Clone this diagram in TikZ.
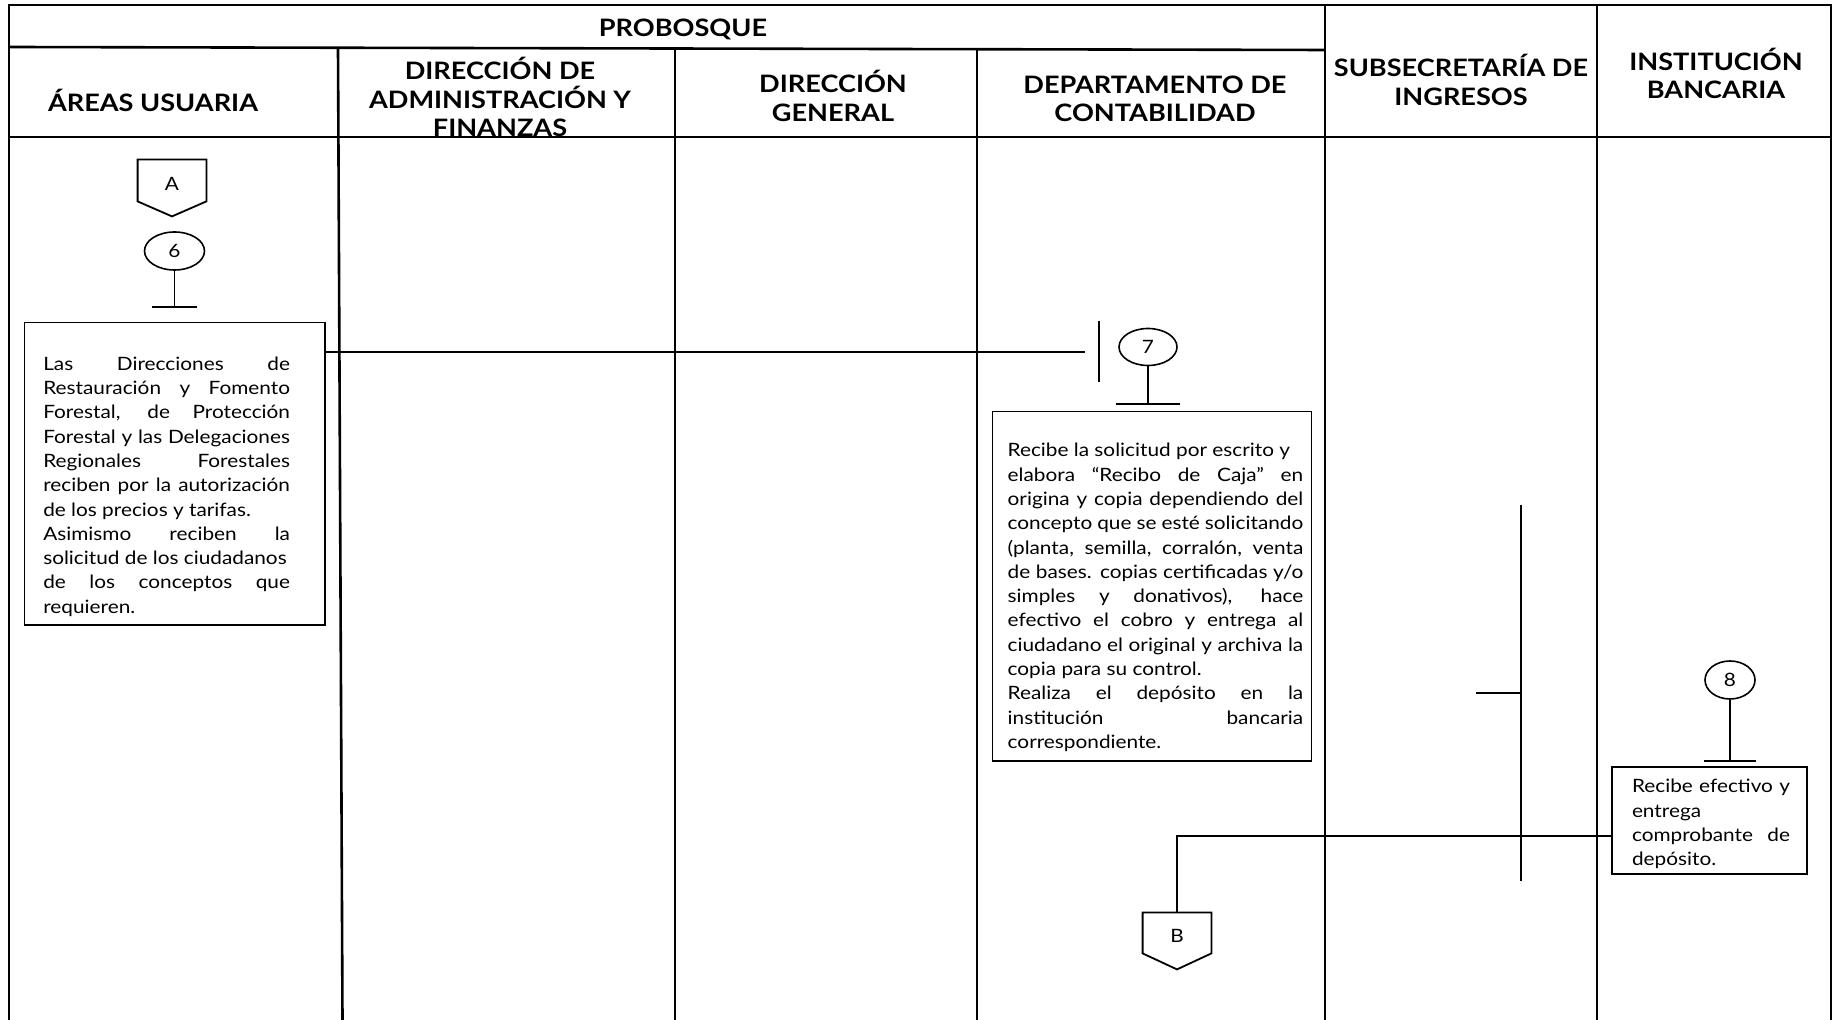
\documentclass[tikz,border=0pt]{standalone}
\usepackage{fontspec}
\setmainfont{Lato}
\newfontfamily\bodyfont[FakeStretch=1.13]{Lato}
\newfontfamily\headfont[FakeStretch=1.13]{Lato}
\usetikzlibrary{shapes.geometric}
\newcommand{\offpage}[2]{%
  \draw[boxline] (#1.north west) -- (#1.north east) -- (#1.south east)
    -- ([yshift=-#2]#1.south) -- (#1.south west) -- cycle;}

\begin{document}
\begin{tikzpicture}[x=0.5pt,y=-0.5pt,
  frame/.style={line width=1.3pt},
  link/.style={line width=0.8pt},
  boxline/.style={line width=0.9pt},
  head/.style={font=\headfont\bfseries\fontsize{12}{14.3}\selectfont,align=center,inner sep=0pt},
  procbox/.style={draw,boxline,inner sep=0pt,align=justify,
    font=\bodyfont\fontsize{9.2}{12.15}\selectfont},
  stepnum/.style={draw,link,ellipse,inner sep=0pt,font=\bodyfont\fontsize{9.2}{11}\selectfont},
  connector/.style={inner sep=0pt,minimum width=34pt,text height=10pt,text depth=0pt,
    font=\bodyfont\fontsize{9.2}{11}\selectfont}]
  \useasboundingbox (0,0) rectangle (1833,1020);
  % ---------------- header texts
  \begin{scope}
    \clip (9,5) rectangle (1831,136);
    \node[head] (probosque) at (683,29) {PROBOSQUE};
    \node[head] (areas) at (153,100) {ÁREAS USUARIA};
    \node[head] (admin) at (500,97) {DIRECCIÓN DE\\ADMINISTRACIÓN Y\\FINANZAS};
    \node[head] (general) at (833,96) {DIRECCIÓN\\GENERAL};
    \node[head] (conta) at (1155,99) {DEPARTAMENTO DE\\CONTABILIDAD};
    \node[head] (ingresos) at (1461,80) {SUBSECRETARÍA DE\\INGRESOS};
    \node[head] (banco) at (1716,73.5) {INSTITUCIÓN\\BANCARIA};
  \end{scope}
  % ---------------- frame and lanes
  \draw[frame] (9,1020) -- (9,5) -- (1831,5) -- (1831,1020);
  \draw[frame] (9,47) -- (1325,50);
  \draw[frame] (9,137) -- (1831,137);
  \draw[frame] (338,48) -- (342.5,1020);
  \draw[frame] (675,48) -- (675,1020);
  \draw[frame] (977,49) -- (977,1020);
  \draw[frame] (1325,5) -- (1325,1020);
  \draw[frame] (1597,5) -- (1597,1020);
  % ---------------- areas usuaria
  \node[connector,minimum height=20.5pt] (conA) at (172,180.5) {A};
  \offpage{conA}{7.5pt}
  \node[stepnum,minimum width=30pt,minimum height=19pt] (e6) at (174.5,251) {6};
  \draw[link] (e6.south) -- (e6.south |- 0,307) coordinate (t6);
  \draw[link] ([xshift=-11.25pt]t6) -- ([xshift=11.25pt]t6);
  \node[procbox,text width=150.25pt,minimum height=151.4pt] (box1) at (174.75,474)
    {\leftskip=9.4pt\rightskip=17.5pt
     \rule{0pt}{19.3pt}Las Direcciones de\linebreak
     Restauración y Fomento\linebreak
     Forestal, de Protección\linebreak
     Forestal y las Delegaciones\linebreak
     Regionales Forestales\linebreak
     reciben por la autorización\linebreak
     de los precios y tarifas.\par
     Asimismo reciben la\linebreak
     solicitud de los ciudadanos\newline
     de los conceptos que\linebreak
     requieren.\par};
  % ---------------- departamento de contabilidad
  \draw[link] (box1.east |- 0,352) -- (1085,352) coordinate (c7);
  \draw[link] (1099,321) -- (1099,382);
  \node[stepnum,minimum width=29pt,minimum height=18.5pt] (e7) at (1148,347) {7};
  \draw[link] (e7.south) -- (e7.south |- 0,404) coordinate (t7);
  \draw[link] ([xshift=-16pt]t7) -- ([xshift=16pt]t7);
  \node[procbox,text width=159.5pt,minimum height=174.75pt] (box2) at (1152,586.25)
    {\leftskip=7.6pt\rightskip=4.1pt
     \rule{0pt}{18pt}Recibe la solicitud por escrito y \newline
     elabora “Recibo de Caja” en\linebreak
     origina y copia dependiendo del\linebreak
     concepto que se esté solicitando\linebreak
     (planta, semilla, corralón, venta\linebreak
     de bases. copias certificadas y/o\linebreak
     simples y donativos), hace\linebreak
     efectivo el cobro y entrega al\linebreak
     ciudadano el original y archiva la\linebreak
     copia para su control.\par
     Realiza el depósito en la\linebreak
     institución bancaria\linebreak
     correspondiente.\par};
  \node[connector,minimum height=20pt] (conB) at (1177,933) {B};
  \offpage{conB}{8pt}
  % ---------------- subsecretaria de ingresos
  \draw[link] (1521,505) -- (1521,881);
  \draw[link] (1476,693) -- (1521,693);
  % ---------------- institucion bancaria
  \node[stepnum,minimum width=25pt,minimum height=19pt] (e8) at (1730,680) {8};
  \draw[link] (e8.south) -- (e8.south |- 0,761) coordinate (t8);
  \draw[link] ([xshift=-13pt]t8) -- ([xshift=13pt]t8);
  \node[procbox,text width=97.5pt,minimum height=53.5pt] (box3) at (1709.5,820.5)
    {\leftskip=10pt\rightskip=8.5pt
     \rule{0pt}{10.5pt}Recibe efectivo y\linebreak
     entrega\newline
     comprobante de\linebreak
     depósito.\par};
  \draw[link] (box3.west |- 0,836) -- (conB.north |- 0,836) -- (conB.north);
\end{tikzpicture}
\end{document}
